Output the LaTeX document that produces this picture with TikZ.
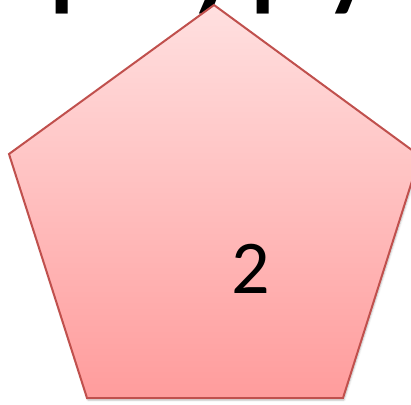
\documentclass[tikz,border=0pt]{standalone}
\usepackage{fontspec}
\setmainfont{Carlito}
\usetikzlibrary{shadows.blur}
\definecolor{shapeedge}{RGB}{192,80,77}
\definecolor{shapetop}{RGB}{255,224,224}
\definecolor{shapebottom}{RGB}{255,156,156}

\begin{document}
\begin{tikzpicture}[x=1pt,y=-1pt]
        \tikzstyle{pentagon}=[draw=shapeedge, line width=2pt, line join=miter, top color=shapetop, bottom color=shapebottom,
            blur shadow={shadow xshift=1pt, shadow yshift=-2pt, shadow blur steps=6, shadow opacity=25}]
        \tikzstyle{numtext}=[font=\fontsize{76}{76}\selectfont, inner sep=0pt]
        \tikzstyle{headtext}=[font=\fontsize{140}{140}\selectfont, inner sep=0pt, anchor=base west]

        \clip (0,0) rectangle (411,404);

        % Heading, cut off at the top
        \node[headtext] (head) at (46,-8) {paypy};

        % Corners of the pentagon
        \coordinate (P-1) at (214,5);
        \coordinate (P-2) at (420,156);
        \coordinate (P-3) at (343,398);
        \coordinate (P-4) at (87,398);
        \coordinate (P-5) at (9,154);
        \path[pentagon] (P-1) -- (P-2) -- (P-3) -- (P-4) -- (P-5) -- cycle;

        % Number
        \node[numtext] (num) at (251,269) {2};

    \end{tikzpicture}
\end{document}
